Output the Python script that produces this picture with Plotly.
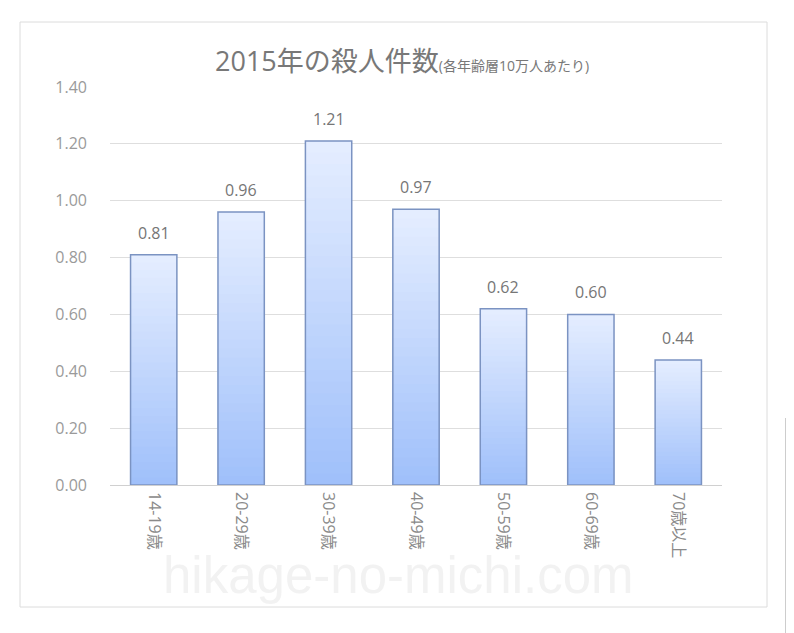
import plotly.graph_objects as go

categories = ["14-19歳", "20-29歳", "30-39歳", "40-49歳", "50-59歳", "60-69歳", "70歳以上"]
values = [0.81, 0.96, 1.21, 0.97, 0.62, 0.60, 0.44]
y_ticks = [0.0, 0.2, 0.4, 0.6, 0.8, 1.0, 1.2, 1.4]
y_tick_labels = ["0.00", "0.20", "0.40", "0.60", "0.80", "1.00", "1.20", "1.40"]

FONT = "Open Sans, Noto Sans CJK JP, sans-serif"
OFF = 8  # default page body margin
W, H = 794 - OFF, 633 - OFF
L, R, T, B = 110 - OFF, 72, 87 - OFF, 148
PW, PH = W - L - R, H - T - B

def px(x):  # reference pixel -> paper
    return (x - OFF - L) / PW

def py(y):
    return (H - B - (y - OFF)) / PH

fig = go.Figure()

# gradient fill: tallest (lightest) first, progressively shorter and darker on top
N = 30
top = (228, 237, 255)
bot = (160, 192, 250)
for i in range(N, 0, -1):
    t = (i - 1) / (N - 1)
    c = tuple(round(bot[k] + (top[k] - bot[k]) * t) for k in range(3))
    fig.add_trace(go.Bar(
        x=categories,
        y=[v * i / N for v in values],
        marker=dict(color="rgb(%d,%d,%d)" % c, line=dict(width=0)),
        width=0.53,
        hoverinfo="skip",
        showlegend=False,
    ))

# outline
fig.add_trace(go.Bar(
    x=categories,
    y=values,
    marker=dict(color="rgba(0,0,0,0)", line=dict(color="#7b93c2", width=1.5)),
    width=0.53,
    hoverinfo="skip",
    showlegend=False,
))

annotations = [
    dict(x=c, y=v, xref="x", yref="y", text="%.2f" % v, showarrow=False,
         yanchor="bottom", yshift=9,
         font=dict(family=FONT, size=16, color="#767676"))
    for c, v in zip(categories, values)
]
annotations += [
    dict(xref="paper", yref="paper", x=px(402), y=py(60),
         text="<span style='font-size:27px'>2015年の殺人件数</span><span style='font-size:14px'>(各年齢層10万人あたり)</span>",
         showarrow=False, font=dict(family=FONT, color="#787878"),
         xanchor="center", yanchor="middle"),
    dict(xref="paper", yref="paper", x=px(398), y=py(575),
         text="hikage-no-michi.com",
         showarrow=False, font=dict(family="Liberation Sans, Arial, sans-serif", size=51,
                                    color="rgba(190,190,190,0.2)"),
         xanchor="center", yanchor="middle"),
]

fig.update_layout(
    width=W, height=H,
    margin=dict(l=L, r=R, t=T, b=B),
    paper_bgcolor="white",
    plot_bgcolor="white",
    barmode="overlay",
    font=dict(family=FONT, color="#8c8c8c"),
    xaxis=dict(
        tickangle=90,
        tickfont=dict(family=FONT, size=16, color="#8a8a8a"),
        showline=False,
        showgrid=False,
        ticks="",
        ticklabelstandoff=6,
    ),
    yaxis=dict(
        range=[0, 1.4],
        tickvals=y_ticks,
        ticktext=y_tick_labels,
        tickfont=dict(family=FONT, size=16, color="#9a9a9a"),
        showgrid=True,
        gridcolor="#dedede",
        gridwidth=1,
        zeroline=True,
        zerolinecolor="#d0d0d0",
        zerolinewidth=1,
        ticks="",
        ticklabelstandoff=22,
    ),
    shapes=[
        dict(type="rect", xref="paper", yref="paper",
             x0=px(20), x1=px(767), y0=py(607), y1=py(22),
             line=dict(color="#dcdcdc", width=1), fillcolor="rgba(0,0,0,0)", layer="below"),
        dict(type="line", xref="paper", yref="paper",
             x0=px(786), x1=px(786), y0=py(633), y1=py(418),
             line=dict(color="#bdbdbd", width=1.5)),
    ],
    annotations=annotations,
)

fig.write_html("out.html")
